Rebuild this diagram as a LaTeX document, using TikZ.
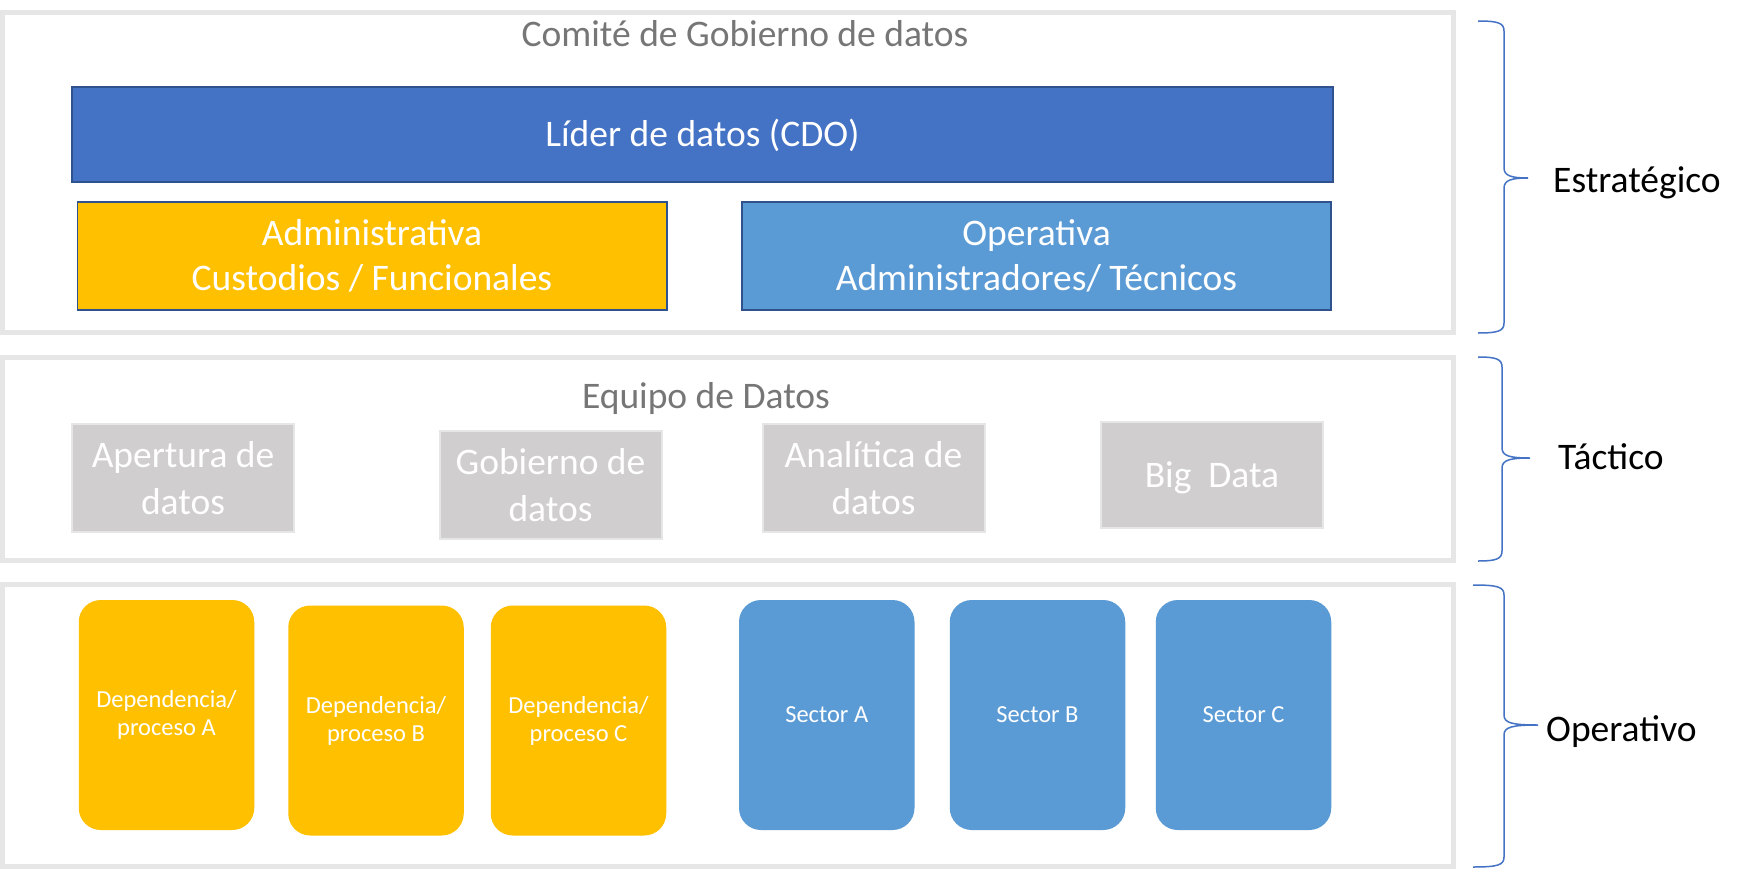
\documentclass[tikz,border=0pt]{standalone}
\usepackage{fontspec}
\setmainfont{Carlito}
\definecolor{panelgray}{RGB}{230,230,230}
\definecolor{headgray}{RGB}{118,118,118}
\definecolor{cdoblue}{RGB}{68,114,196}
\definecolor{darkblue}{RGB}{47,82,143}
\definecolor{gold}{RGB}{255,192,0}
\definecolor{lightblue}{RGB}{91,155,213}
\definecolor{boxgray}{RGB}{208,206,206}
\definecolor{boxedge}{RGB}{231,230,230}
\begin{document}
\begin{tikzpicture}[x=1pt,y=-1pt,
  panel/.style={draw=panelgray, line width=5pt, fill=white, minimum width=1451pt, inner sep=0pt},
  bigtext/.style={font=\fontsize{37.5}{45.5}\selectfont, text=white, align=center},
  teamtext/.style={font=\fontsize{37.5}{47.5}\selectfont, text=white, align=center},
  smalltext/.style={font=\fontsize{24.5}{28}\selectfont, text=white, align=center},
  bar/.style={draw=darkblue, line width=1.5pt, inner sep=0pt, bigtext},
  team/.style={fill=boxgray, draw=boxedge, line width=2pt, minimum width=222pt, minimum height=108pt, teamtext, inner sep=0pt},
  unitbox/.style={rounded corners=22pt, minimum width=175.5pt, minimum height=230pt, smalltext, inner sep=0pt},
  heading/.style={font=\fontsize{37.5}{44}\selectfont, text=headgray, anchor=base, inner sep=0pt},
  tier/.style={font=\fontsize{37.5}{44}\selectfont, text=black, anchor=base west, inner sep=0pt},
  bracepath/.style={draw=cdoblue, line width=1.5pt}
]
\useasboundingbox (0,0) rectangle (1751,870);
\fill[white] (0,0) rectangle (1751,870);

% panels
\node[panel, minimum height=320pt] (p1) at (728,172.5) {};
\node[panel, minimum height=203pt] (p2) at (728,459) {};
\node[panel, minimum height=282pt] (p3) at (728,725.5) {};

% headings
\node[heading] (comite) at (745,46.5) {Comité de Gobierno de datos};
\node[heading] (equipo) at (706,408) {Equipo de Datos};

% strategic level
\node[bar, fill=cdoblue, minimum width=1261pt, minimum height=95pt, text depth=4pt] (cdo) at (702.5,134.5) {Líder de datos (CDO)};
\node[bar, fill=gold, minimum width=589.5pt, minimum height=108pt] (admin) at (372,256) {Administrativa\\Custodios / Funcionales};
\node[bar, fill=lightblue, minimum width=589pt, minimum height=108pt] (operat) at (1036.5,256) {Operativa\\Administradores/ Técnicos};

% tactical level
\node[team] (apertura) at (183,478) {Apertura de\\datos};
\node[team] (gobierno) at (550.5,485) {Gobierno de\\datos};
\node[team] (analitica) at (873.5,478) {Analítica de\\datos};
\node[team, minimum height=106pt, text depth=0pt] (bigdata) at (1212,475) {Big\ \ Data};

% operative level
\node[unitbox, fill=gold] (depa) at (166.5,715) {Dependencia/\\proceso A};
\node[unitbox, fill=gold] (depb) at (376,720.5) {Dependencia/\\proceso B};
\node[unitbox, fill=gold] (depc) at (578.5,720.5) {Dependencia/\\proceso C};
\node[unitbox, fill=lightblue] (seca) at (826.75,715) {Sector A};
\node[unitbox, fill=lightblue] (secb) at (1037.5,715) {Sector B};
\node[unitbox, fill=lightblue] (secc) at (1243.5,715) {Sector C};

% braces
\foreach \xl/\xv/\xt/\ya/\ym/\yb in {1478/1504/1528/21/178/333, 1478/1502/1530/357/458/561, 1473/1504/1538/585/725/867}{
  \draw[bracepath] (\xl,\ya) .. controls ({\xv-6},\ya) and (\xv,{\ya+2}) .. (\xv,{\ya+10})
    -- (\xv,{\ym-10}) .. controls (\xv,{\ym-2}) and ({\xv+8},\ym) .. (\xt,\ym)
    .. controls ({\xv+8},\ym) and (\xv,{\ym+2}) .. (\xv,{\ym+10})
    -- (\xv,{\yb-10}) .. controls (\xv,{\yb-2}) and ({\xv-6},\yb) .. (\xl,\yb);
}

% tier labels
\node[tier] (estr) at (1553,192) {Estratégico};
\node[tier] (tact) at (1558,469) {Táctico};
\node[tier] (opera) at (1546,741) {Operativo};
\end{tikzpicture}
\end{document}
